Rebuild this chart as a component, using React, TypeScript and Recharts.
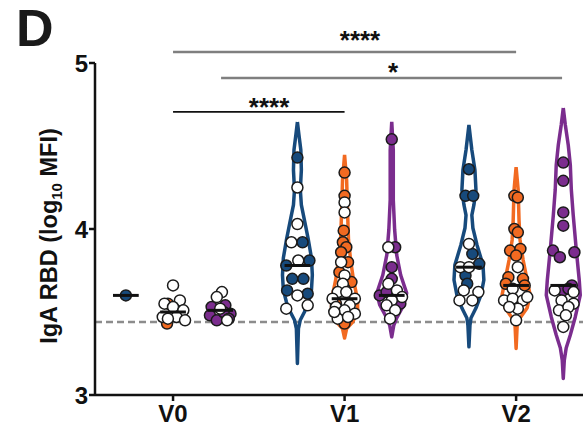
import React from 'react'
import { ScatterChart, Scatter, XAxis, YAxis, ReferenceLine, ReferenceDot } from 'recharts'

const categories = ['V0', 'V1', 'V2']
const xTicks = [0, 1, 2]
const yTicks = [3, 4, 5]
const cutoff = 3.44

const BLUE = '#174a7c'
const ORANGE = '#f26a21'
const PURPLE = '#7b2d8e'

// points: [x jitter, log10 MFI]
const v0BlueFilled = [[0, 3.6]]
const v0BlueOpen: number[][] = []
const v0OrangeFilled = [[-0.03, 3.55], [-0.035, 3.43], [0.03, 3.49]]
const v0OrangeOpen = [[0, 3.66], [0.04, 3.57], [-0.05, 3.55], [0, 3.53], [0.06, 3.51], [-0.06, 3.47], [0.02, 3.47], [0.07, 3.45], [-0.03, 3.46]]
const v0PurpleFilled = [[-0.05, 3.53], [0.03, 3.54], [-0.06, 3.48], [0.06, 3.49], [-0.02, 3.45], [0.02, 3.5], [0.05, 3.46]]
const v0PurpleOpen = [[0.01, 3.62], [-0.02, 3.59], [0.04, 3.45], [0, 3.52]]

const v1BlueFilled = [[0, 4.43], [0.03, 3.92], [-0.065, 3.78], [0.07, 3.81], [-0.03, 3.7], [0.035, 3.7], [-0.06, 3.63], [0.06, 3.61]]
const v1BlueOpen = [[0, 4.25], [0, 4.03], [-0.035, 3.92], [0.005, 3.81], [0, 3.6], [-0.065, 3.52], [0.06, 3.54]]
const v1OrangeFilled = [[0, 4.34], [0, 4.2], [-0.005, 3.99], [-0.01, 3.92], [0.01, 3.89], [-0.02, 3.86], [0.02, 3.8], [-0.03, 3.74], [0.04, 3.68], [0, 3.64], [-0.05, 3.55], [0, 3.43]]
const v1OrangeOpen = [[0, 4.16], [0, 4.1], [-0.02, 3.8], [0, 3.72], [-0.01, 3.67], [-0.04, 3.62], [0.01, 3.62], [-0.07, 3.58], [0.06, 3.58], [-0.05, 3.53], [0.03, 3.54], [0, 3.51], [0.06, 3.49], [-0.04, 3.46], [0.02, 3.47], [-0.06, 3.5]]
const v1PurpleFilled = [[0, 4.54], [0.02, 3.89], [0, 3.77], [0, 3.7], [-0.07, 3.6], [0.05, 3.55], [-0.03, 3.62]]
const v1PurpleOpen = [[-0.02, 3.89], [-0.02, 3.67], [0.03, 3.63], [0.06, 3.59], [0, 3.57], [-0.03, 3.54], [0.02, 3.51], [-0.01, 3.46]]

const v2BlueFilled = [[0, 4.36], [-0.02, 4.2], [0.025, 4.2], [0.02, 3.85], [0.06, 3.79], [-0.02, 3.72], [-0.01, 3.67]]
const v2BlueOpen = [[0, 3.91], [-0.05, 3.77], [0, 3.77], [-0.03, 3.63], [0.055, 3.62], [-0.055, 3.57], [0.02, 3.57]]
const v2OrangeFilled = [[-0.01, 4.2], [0.01, 4.19], [-0.01, 4.0], [0.01, 3.98], [-0.035, 3.87], [0.025, 3.88], [0, 3.84], [-0.045, 3.71], [0.04, 3.7], [-0.06, 3.67], [0.05, 3.66]]
const v2OrangeOpen = [[0.01, 3.77], [-0.02, 3.64], [-0.07, 3.57], [-0.02, 3.58], [0.04, 3.57], [0.065, 3.59], [0.01, 3.52], [-0.04, 3.53], [0, 3.45]]
const v2PurpleFilled = [[0, 4.4], [0, 4.29], [0, 4.1], [0, 4.02], [-0.06, 3.87], [0.065, 3.86], [-0.02, 3.83], [0.05, 3.66], [0, 3.63], [0.03, 3.64]]
const v2PurpleOpen = [[-0.05, 3.63], [0.06, 3.62], [-0.01, 3.57], [0.06, 3.55], [-0.025, 3.51], [0.03, 3.53], [0.015, 3.48], [0, 3.41]]

// violin half-widths: [log10 MFI, half width]
const v1BlueViolin = [[4.645, 0], [4.566, 0.009], [4.476, 0.02], [4.355, 0.023], [4.235, 0.017], [4.145, 0.023], [4.054, 0.041], [3.934, 0.064], [3.825, 0.082], [3.723, 0.087], [3.633, 0.082], [3.56, 0.064], [3.5, 0.041], [3.452, 0.017], [3.4, 0.006], [3.19, 0]]
const v1OrangeViolin = [[4.446, 0], [4.295, 0.012], [4.114, 0.017], [3.934, 0.023], [3.813, 0.035], [3.693, 0.052], [3.572, 0.076], [3.5, 0.076], [3.44, 0.047], [3.4, 0.012], [3.343, 0]]
const v1PurpleViolin = [[4.645, 0], [4.476, 0.009], [4.175, 0.009], [3.994, 0.017], [3.843, 0.029], [3.723, 0.052], [3.614, 0.087], [3.542, 0.07], [3.464, 0.029], [3.42, 0.012], [3.35, 0]]
const v2BlueViolin = [[4.627, 0], [4.476, 0.017], [4.355, 0.035], [4.235, 0.041], [4.145, 0.029], [4.084, 0.017], [4.006, 0.023], [3.904, 0.047], [3.783, 0.082], [3.693, 0.087], [3.602, 0.07], [3.524, 0.041], [3.464, 0.012], [3.42, 0.006], [3.29, 0]]
const v2OrangeViolin = [[4.373, 0], [4.235, 0.012], [4.054, 0.017], [3.934, 0.023], [3.813, 0.041], [3.693, 0.064], [3.602, 0.082], [3.524, 0.064], [3.464, 0.023], [3.416, 0.006], [3.28, 0]]
const v2PurpleViolin = [[4.729, 0], [4.627, 0.012], [4.506, 0.029], [4.386, 0.041], [4.235, 0.047], [4.084, 0.058], [3.873, 0.076], [3.693, 0.093], [3.602, 0.099], [3.47, 0.07], [3.361, 0.041], [3.283, 0.017], [3.21, 0.006], [3.1, 0]]

// medians per visit: [blue, orange, purple]
const medians = [[3.6, 3.5, 3.51], [3.78, 3.58, 3.6], [3.77, 3.66, 3.66]]

// significance: [from x, to x, y, stars, star x, star y, colour]
const sigBars: [number, number, number, string, number, number, string][] = [
  [0, 2, 5.066, '****', 1.09, 5.169, '#7f7f7f'],
  [0.28, 2.268, 4.91, '*', 1.283, 4.976, '#7f7f7f'],
  [0, 1, 4.705, '****', 0.56, 4.765, '#111'],
]

const offsets = [-0.275, 0, 0.275]
const colors = [BLUE, ORANGE, PURPLE]

const groups = [
  { cat: 0, g: 0, filled: v0BlueFilled, open: v0BlueOpen, violin: null },
  { cat: 0, g: 1, filled: v0OrangeFilled, open: v0OrangeOpen, violin: null },
  { cat: 0, g: 2, filled: v0PurpleFilled, open: v0PurpleOpen, violin: null },
  { cat: 1, g: 0, filled: v1BlueFilled, open: v1BlueOpen, violin: v1BlueViolin },
  { cat: 1, g: 1, filled: v1OrangeFilled, open: v1OrangeOpen, violin: v1OrangeViolin },
  { cat: 1, g: 2, filled: v1PurpleFilled, open: v1PurpleOpen, violin: v1PurpleViolin },
  { cat: 2, g: 0, filled: v2BlueFilled, open: v2BlueOpen, violin: v2BlueViolin },
  { cat: 2, g: 1, filled: v2OrangeFilled, open: v2OrangeOpen, violin: v2OrangeViolin },
  { cat: 2, g: 2, filled: v2PurpleFilled, open: v2PurpleOpen, violin: v2PurpleViolin },
]

const FONT = '"Liberation Sans", Arial, Helvetica, sans-serif'

function outline(center: number, profile: number[][]) {
  const right = profile.map(([y, w]) => ({ x: center + w, y }))
  const left = [...profile].reverse().map(([y, w]) => ({ x: center - w, y }))
  return [...right, ...left, right[0]]
}

const NoDot = () => <g />

const makeDot = (fill: string) => (p: any) => (
  <circle cx={p.cx} cy={p.cy} r={5.5} fill={fill} stroke="#1b1b1b" strokeWidth={1.5} />
)

const YLabel = () => (
  <text
    transform="translate(57,236) rotate(-90)"
    textAnchor="middle"
    fontSize={23.5}
    fontWeight={700}
    fill="#111"
    fontFamily={FONT}
  >
    IgA RBD (log<tspan fontSize={15} dy={5}>10</tspan>
    <tspan dy={-5}> MFI)</tspan>
  </text>
)

const StarLabel = ({ viewBox, text }: any) => (
  <text
    x={viewBox.x}
    y={viewBox.y + 14}
    textAnchor="middle"
    fontSize={26}
    fontWeight={700}
    fill="#111"
    fontFamily={FONT}
  >
    {text}
  </text>
)

export default function App() {
  return (
    <div style={{ position: 'absolute', left: 0, top: 0, width: 583, height: 433, background: '#fff', fontFamily: FONT }}>
      <div style={{ position: 'absolute', left: 16, top: 2, fontSize: 52, lineHeight: '52px', fontWeight: 700, color: '#1a1a1a' }}>
        D
      </div>
      <ScatterChart width={583} height={433} margin={{ top: 63, right: 0, bottom: 8, left: 50 }}>
        <XAxis
          type="number"
          dataKey="x"
          domain={[-0.455, 2.39]}
          allowDataOverflow
          ticks={xTicks}
          tickFormatter={(v: number) => categories[v]}
          tick={{ fontSize: 24, fontWeight: 700, fill: '#111', fontFamily: FONT }}
          axisLine={{ stroke: '#111', strokeWidth: 2.5 }}
          tickLine={{ stroke: '#111', strokeWidth: 2.5 }}
          tickSize={6}
          tickMargin={4}
          height={30}
        />
        <YAxis
          type="number"
          dataKey="y"
          domain={[3, 5]}
          allowDataOverflow
          ticks={yTicks}
          tick={{ fontSize: 24, fontWeight: 700, fill: '#111', fontFamily: FONT }}
          axisLine={{ stroke: '#111', strokeWidth: 2.5 }}
          tickLine={{ stroke: '#111', strokeWidth: 2.5 }}
          tickSize={6}
          tickMargin={1}
          width={45}
          label={<YLabel />}
        />
        <ReferenceLine y={cutoff} stroke="#8c8c8c" strokeWidth={2.5} strokeDasharray="7 4" />
        {groups.map((gr) =>
          gr.violin ? (
            <Scatter
              key={`v-${gr.cat}-${gr.g}`}
              data={outline(gr.cat + offsets[gr.g], gr.violin)}
              line={{ stroke: colors[gr.g], strokeWidth: 3.5, strokeLinejoin: 'round' }}
              shape={NoDot}
              isAnimationActive={false}
            />
          ) : null
        )}
        {groups.map((gr) => (
          <Scatter
            key={`f-${gr.cat}-${gr.g}`}
            data={gr.filled.map(([dx, y]) => ({ x: gr.cat + offsets[gr.g] + dx, y }))}
            shape={makeDot(colors[gr.g])}
            isAnimationActive={false}
          />
        ))}
        {groups.map((gr) => (
          <Scatter
            key={`o-${gr.cat}-${gr.g}`}
            data={gr.open.map(([dx, y]) => ({ x: gr.cat + offsets[gr.g] + dx, y }))}
            shape={makeDot('#ffffff')}
            isAnimationActive={false}
          />
        ))}
        {groups.map((gr) => {
          const c = gr.cat + offsets[gr.g]
          const m = medians[gr.cat][gr.g]
          return (
            <Scatter
              key={`m-${gr.cat}-${gr.g}`}
              data={[{ x: c - 0.075, y: m }, { x: c + 0.075, y: m }]}
              line={{ stroke: '#111', strokeWidth: 3 }}
              shape={NoDot}
              isAnimationActive={false}
            />
          )
        })}
        {sigBars.map(([x1, x2, y, , , , col], i) => (
          <ReferenceLine
            key={`s-${i}`}
            segment={[{ x: x1, y }, { x: x2, y }]}
            stroke={col}
            strokeWidth={i === 2 ? 1.8 : 2.5}
            ifOverflow="visible"
          />
        ))}
        {sigBars.map(([, , , stars, sx, sy], i) => (
          <ReferenceDot
            key={`d-${i}`}
            x={sx}
            y={sy}
            r={0}
            fill="none"
            stroke="none"
            ifOverflow="visible"
            label={<StarLabel text={stars} />}
          />
        ))}
      </ScatterChart>
    </div>
  )
}
